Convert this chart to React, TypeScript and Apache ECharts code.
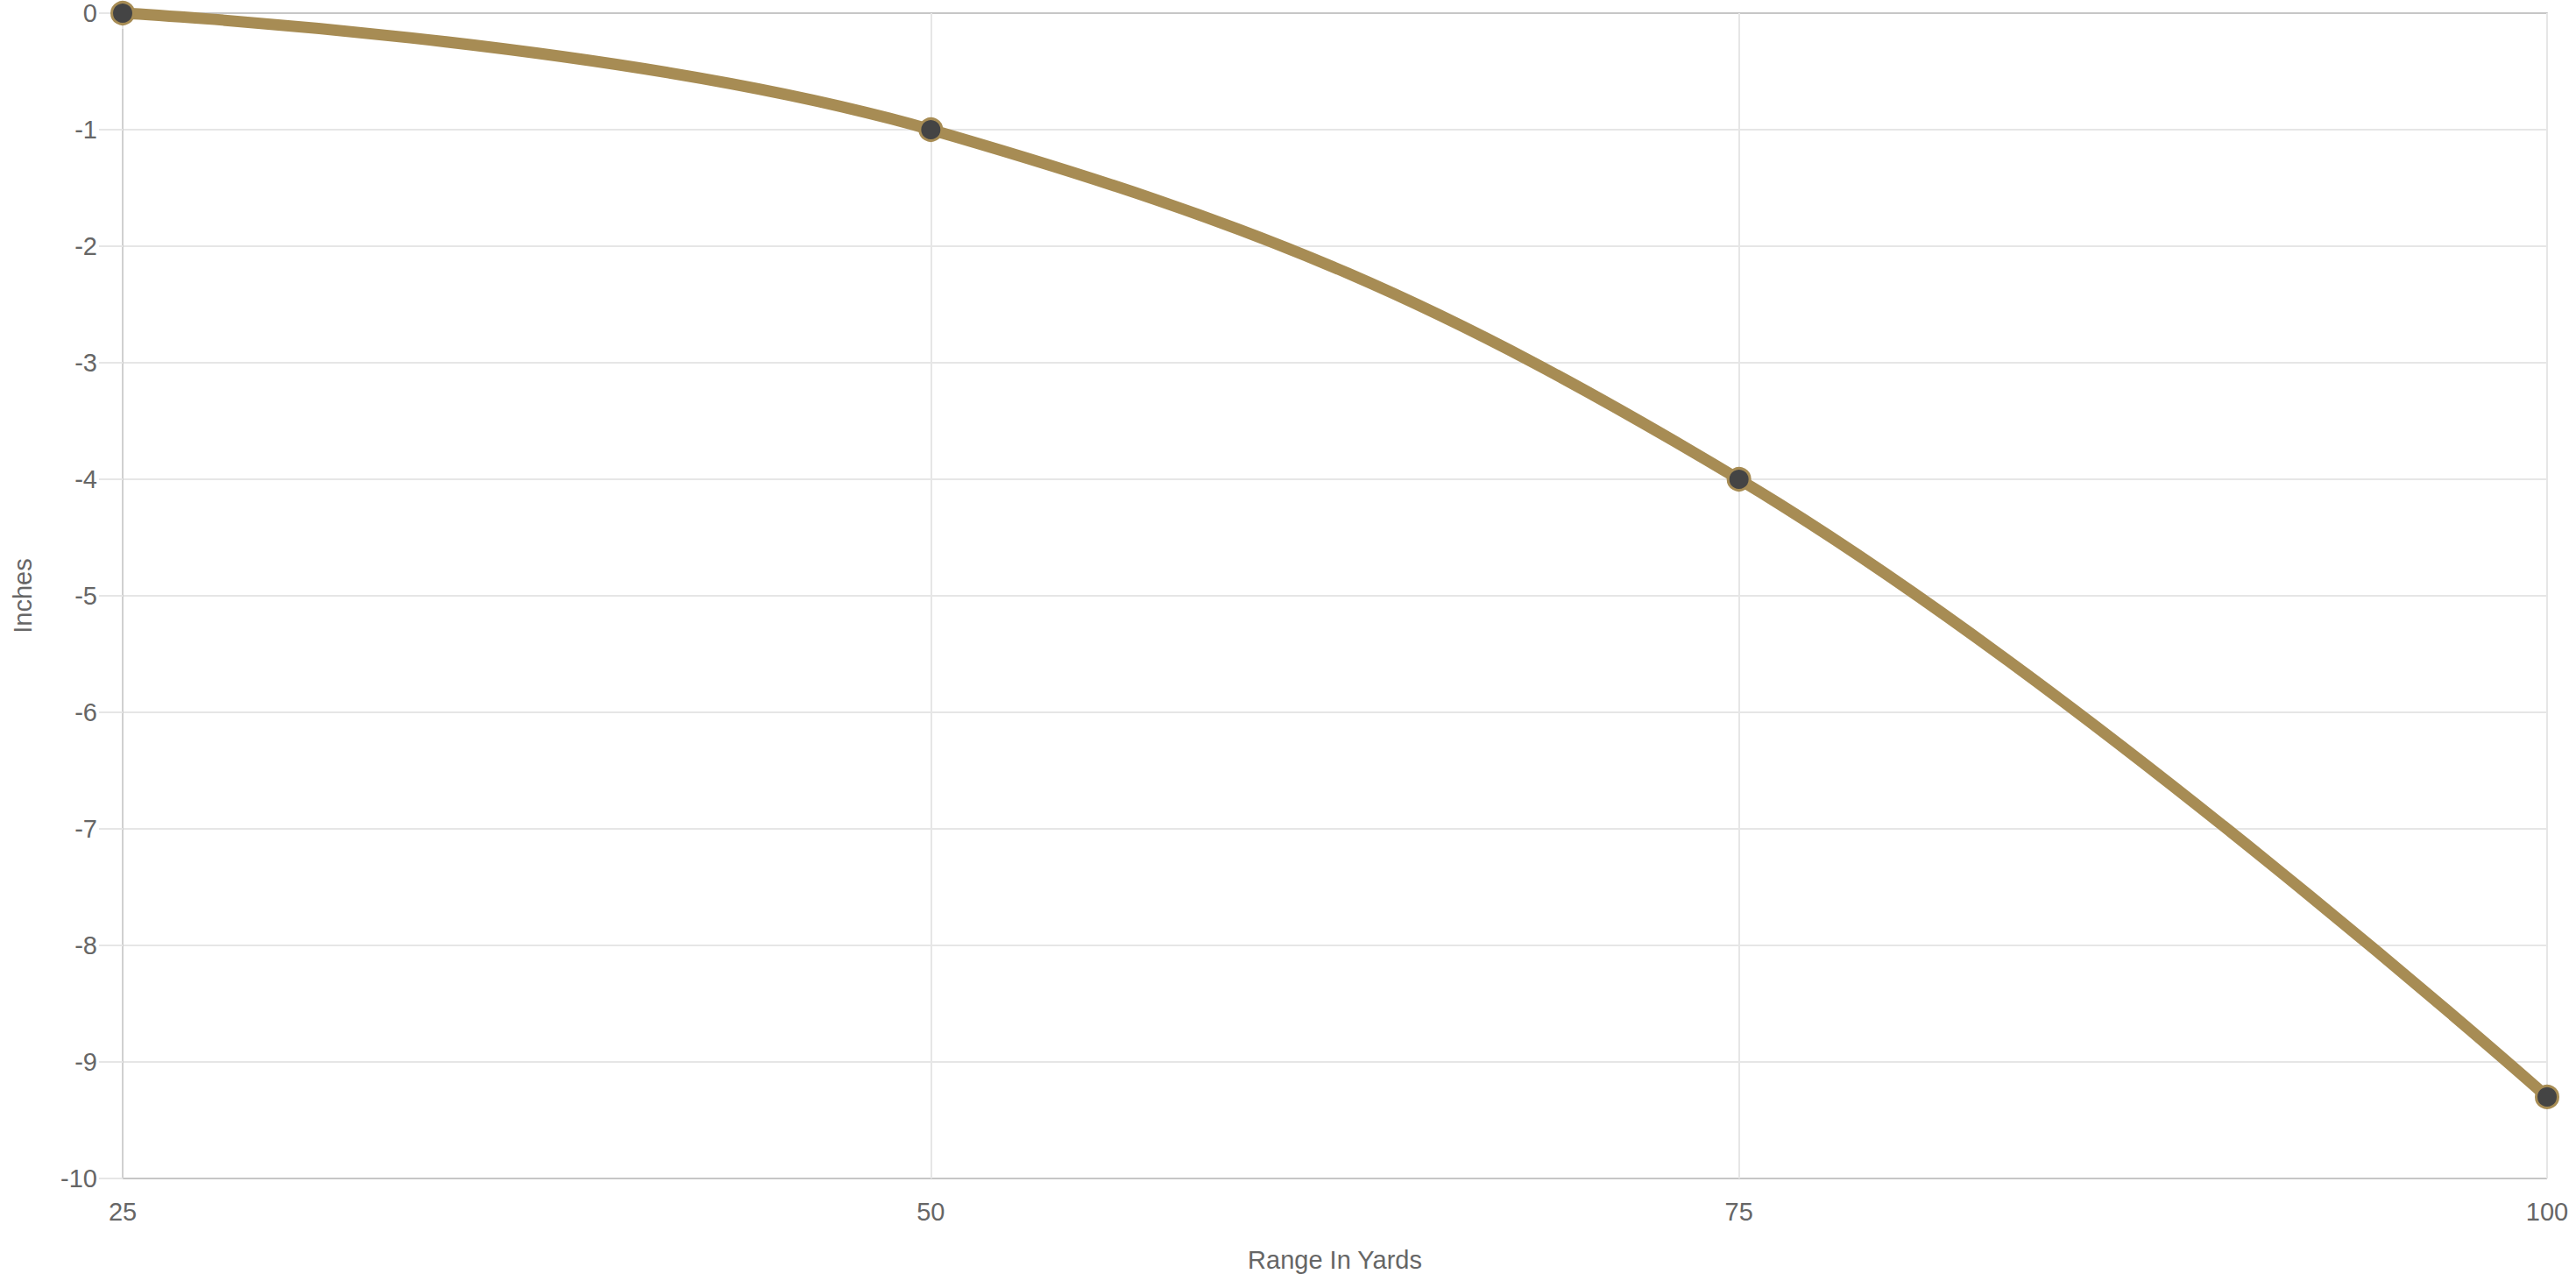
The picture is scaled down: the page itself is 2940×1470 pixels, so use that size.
import { useEffect, useRef } from "react";
import * as echarts from "echarts";

// range in yards vs. drop in inches
const rangeYards = [25, 50, 75, 100];
const dropInches = [0, -1, -4, -9.3];

const GOLD = "#a78c54";
const FONT = "Liberation Sans, Arial, sans-serif";

export default function App() {
  const ref = useRef<HTMLDivElement>(null);

  useEffect(() => {
    if (!ref.current) return;
    const chart = echarts.init(ref.current, undefined, { renderer: "svg" });

    // light grid, darker lines at the bottom border (-10) and the zero line (0)
    const yGridColors = Array.from({ length: 11 }, (_, i) =>
      i === 0 || i === 10 ? "#c6c6c6" : "#e6e6e6"
    );

    chart.setOption({
      animation: false,
      backgroundColor: "#fff",
      grid: { left: 140, right: 33, top: 15, bottom: 125 },
      xAxis: {
        type: "value",
        min: 25,
        max: 100,
        interval: 25,
        name: "Range In Yards",
        nameLocation: "middle",
        nameGap: 78,
        nameTextStyle: { color: "#666", fontSize: 29, fontFamily: FONT },
        axisLine: { show: true, lineStyle: { color: "#c6c6c6", width: 2 } },
        axisTick: { show: true, length: 18, lineStyle: { color: "#e6e6e6", width: 2 } },
        axisLabel: { color: "#666", fontSize: 29, fontFamily: FONT, margin: 23 },
        splitLine: { show: true, lineStyle: { color: "#e6e6e6", width: 2 } },
      },
      yAxis: {
        type: "value",
        min: -10,
        max: 0,
        interval: 1,
        name: "Inches",
        nameLocation: "middle",
        nameRotate: 90,
        nameGap: 100,
        nameTextStyle: { color: "#666", fontSize: 29, fontFamily: FONT },
        axisLine: { show: true, lineStyle: { color: "#d0d0d0", width: 2 } },
        axisTick: { show: true, length: 27, lineStyle: { color: "#e6e6e6", width: 2 } },
        axisLabel: { color: "#666", fontSize: 29, fontFamily: FONT, margin: 29 },
        splitLine: { show: true, lineStyle: { color: yGridColors, width: 2 } },
      },
      series: [
        {
          type: "line",
          data: rangeYards.map((x, i) => [x, dropInches[i]]),
          smooth: 0.4,
          symbol: "circle",
          symbolSize: 25,
          lineStyle: { color: GOLD, width: 13 },
          itemStyle: { color: "#444", borderColor: GOLD, borderWidth: 3 },
          z: 5,
        },
      ],
    });

    const onResize = () => chart.resize();
    window.addEventListener("resize", onResize);
    return () => {
      window.removeEventListener("resize", onResize);
      chart.dispose();
    };
  }, []);

  return (
    <div
      ref={ref}
      style={{ position: "fixed", left: 0, top: 0, width: "100vw", height: "100vh" }}
    />
  );
}
